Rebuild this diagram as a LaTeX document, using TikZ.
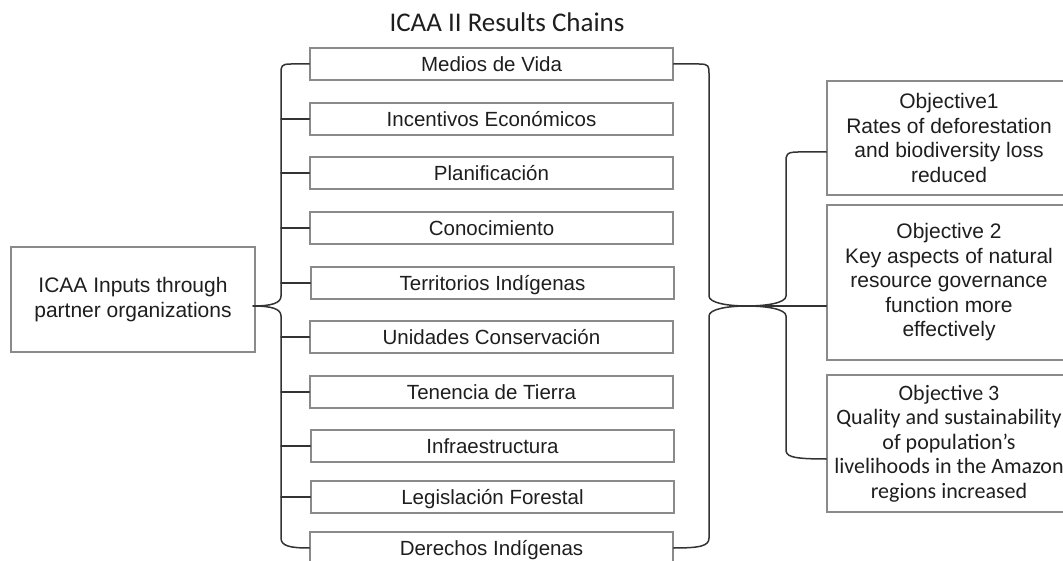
\documentclass[tikz,border=0pt]{standalone}
\usepackage{fontspec}
\setmainfont{Liberation Sans}
\newfontfamily\calib{Carlito}
\definecolor{boxgray}{HTML}{8A8A8A}
\definecolor{conncol}{HTML}{333333}
\definecolor{txt}{HTML}{1E1E1E}
\begin{document}
\begin{tikzpicture}[x=1pt,y=-1pt,
  midbox/.style={draw=boxgray, line width=1.3pt, minimum width=363pt, minimum height=32pt, inner sep=0pt,
    text=txt, font=\fontsize{20.5}{24}\selectfont, text height=15pt, text depth=0pt},
  objbox/.style={draw=boxgray, line width=1.3pt, minimum width=244pt, inner sep=0pt, align=center,
    text=txt, font=\fontsize{21}{24.5}\selectfont},
  conn/.style={draw=conncol, line width=1.5pt, line cap=round, line join=round}
]
\useasboundingbox (0,0) rectangle (1063,561);

\node[anchor=base, text=txt, font=\calib\fontsize{27}{30}\selectfont] (title) at (507,32) {ICAA II Results Chains};

\node[objbox, minimum height=105pt] (ia) at (133,299.5) {ICAA Inputs through\\partner organizations};

\node[midbox] (m1) at (491.5,64) {Medios de Vida};
\node[midbox] (m2) at (491.5,119) {Incentivos Económicos};
\node[midbox] (m3) at (491.5,173) {Planificación};
\node[midbox] (m4) at (491.5,228) {Conocimiento};
\node[midbox] (m5) at (492.5,283) {Territorios Indígenas};
\node[midbox] (m6) at (491.5,337) {Unidades Conservación};
\node[midbox] (m7) at (491.5,392) {Tenencia de Tierra};
\node[midbox] (m8) at (492.5,446) {Infraestructura};
\node[midbox] (m9) at (492.5,497) {Legislación Forestal};
\node[midbox] (m10) at (491.5,548) {Derechos Indígenas};

\node[objbox, minimum height=114pt] (o1) at (949,138) {Objective1\\Rates of deforestation\\and biodiversity loss\\reduced};
\node[objbox, minimum height=155pt] (o2) at (949,282.5) {Objective 2\\Key aspects of natural\\resource governance\\function more\\effectively};
\node[objbox, minimum height=137pt, font=\calib\fontsize{22}{24.5}\selectfont] (o3) at (949,443.5) {Objective 3\\Quality and sustainability\\of population’s\\livelihoods in the Amazon\\regions increased};

\coordinate (ltip) at (253,306);
\coordinate (rtip) at (747,306);
\coordinate (lv) at (281,0);

% left brace
\draw[conn] (m1.west) -- (291,64) .. controls (281,64) and (281,66) .. (281,74) -- (281,296)
  .. controls (281,303) and (272,306) .. (ltip);
\draw[conn] (ltip) .. controls (272,306) and (281,309) .. (281,316) -- (281,538)
  .. controls (281,546) and (290,548) .. (m10.west);
\foreach \i in {2,...,9} { \draw[conn] (m\i.west) -- (m\i.west -| lv); }

% right brace from middle boxes
\draw[conn] (m1.east) -- (699,64) .. controls (709,64) and (709,66) .. (709,74) -- (709,296)
  .. controls (709,303) and (728,306) .. (rtip);
\draw[conn] (rtip) .. controls (728,306) and (709,309) .. (709,316) -- (709,538)
  .. controls (709,546) and (700,548) .. (m10.east);

% brace to objectives
\draw[conn] ([yshift=-14pt]o1.west) -- (798,152) .. controls (786,152) and (786,155) .. (786,162) -- (786,296)
  .. controls (786,303) and (766,306) .. (rtip);
\draw[conn] (rtip) .. controls (766,306) and (786,309) .. (786,316) -- (786,449)
  .. controls (786,456) and (789,459) .. ([yshift=-15.5pt]o3.west);
\draw[conn] (rtip) -- (o2.west |- rtip);
\end{tikzpicture}
\end{document}
